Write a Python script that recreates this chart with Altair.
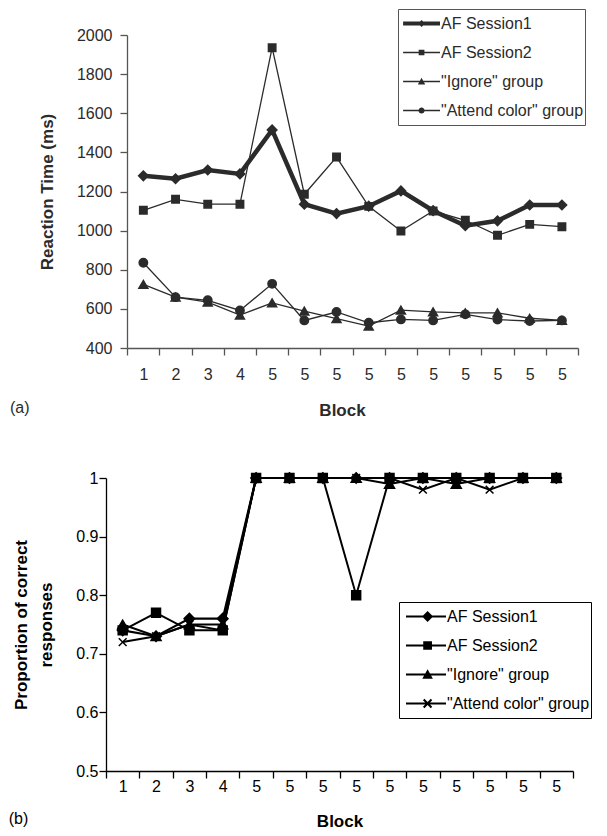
import altair as alt
import pandas as pd

# ---------------- data ----------------
blocks = ["1", "2", "3", "4", "5", "5", "5", "5", "5", "5", "5", "5", "5", "5"]
series = ["AF Session1", "AF Session2", "\"Ignore\" group", "\"Attend color\" group"]

rt_session1 = [1280, 1265, 1310, 1290, 1515, 1135, 1087, 1125, 1203, 1102, 1025, 1050, 1131, 1131]
rt_session2 = [1104, 1160, 1135, 1135, 1935, 1186, 1376, 1124, 998, 1100, 1053, 976, 1032, 1020]
rt_ignore = [725, 660, 635, 568, 631, 589, 550, 512, 594, 585, 580, 580, 552, 541]
rt_attend = [836, 660, 644, 592, 728, 541, 584, 529, 546, 541, 572, 545, 538, 541]

pc_session1 = [0.74, 0.73, 0.76, 0.76, 1, 1, 1, 1, 1, 1, 1, 1, 1, 1]
pc_session2 = [0.74, 0.77, 0.74, 0.74, 1, 1, 1, 0.80, 1, 1, 1, 1, 1, 1]
pc_ignore = [0.75, 0.73, 0.75, 0.75, 1, 1, 1, 1, 0.99, 1, 0.99, 1, 1, 1]
pc_attend = [0.72, 0.73, 0.75, 0.74, 1, 1, 1, 1, 1, 0.98, 1, 0.98, 1, 1]


def long_table(values_list):
    rows = []
    for s, vals in zip(series, values_list):
        for i, v in enumerate(vals):
            rows.append({"pos": i, "block": blocks[i], "series": s, "value": v})
    return pd.DataFrame(rows)


rt_df = long_table([rt_session1, rt_session2, rt_ignore, rt_attend])
pc_df = long_table([pc_session1, pc_session2, pc_ignore, pc_attend])

FONT = "Liberation Sans"
label_expr = "[" + ",".join("'%s'" % b for b in blocks) + "][datum.value]"


# ---------- legend symbols: filled line segment + filled marker ----------
def f(v):
    return ("%.4f" % v).rstrip("0").rstrip(".")


def seg(x0, h):
    return f"M{f(x0)},{f(-h)}L1,{f(-h)}L1,{f(h)}L{f(x0)},{f(h)}Z"


def diamond(cx, m):
    return f"M{f(cx)},{f(-m)}L{f(cx+m)},0L{f(cx)},{f(m)}L{f(cx-m)},0Z"


def square(cx, m):
    return f"M{f(cx-m)},{f(-m)}L{f(cx+m)},{f(-m)}L{f(cx+m)},{f(m)}L{f(cx-m)},{f(m)}Z"


def triangle(cx, m):
    return f"M{f(cx)},{f(-m)}L{f(cx+m)},{f(m*0.8)}L{f(cx-m)},{f(m*0.8)}Z"


def circle(cx, m):
    return (f"M{f(cx+m)},0A{f(m)},{f(m)} 0 1,1 {f(cx-m)},0"
            f"A{f(m)},{f(m)} 0 1,1 {f(cx+m)},0Z")


def xmark(cx, m, w):
    pts = [(w, m), (w, w), (m, w), (m, -w), (w, -w), (w, -m), (-w, -m), (-w, -w),
           (-m, -w), (-m, w), (-w, w), (-w, m)]
    rot = [((x - y) / 2 ** 0.5 + cx, (x + y) / 2 ** 0.5) for x, y in pts]
    area = sum(rot[i][0] * rot[(i + 1) % 12][1] - rot[(i + 1) % 12][0] * rot[i][1] for i in range(12))
    if area < 0:
        rot = rot[::-1]
    return "M" + "L".join(f"{f(x)},{f(y)}" for x, y in rot) + "Z"


def panel(df, width, height, ydom, yvals, ytitle, shapes, sizes, lw, leg_shapes,
          leg_x, leg_y, leg_size, color, axis_color, ylab_pad, ytitle_pad, xlab_pad, xtitle_pad,
          tag, tag_dx, tag_off, yformat, title_lh, x_scale, x_domain_dash, y_offset):
    xaxis = dict(title="Block", labelExpr=label_expr, labelAngle=0, tickBand="extent",
                 tickSize=7, labelPadding=xlab_pad, titlePadding=xtitle_pad,
                 domainColor=axis_color, tickColor=axis_color, domainWidth=1.3, tickWidth=1.3,
                 labelFont=FONT, labelFontSize=16, labelColor=color,
                 titleFont=FONT, titleFontSize=17, titleFontWeight="bold", titleColor=color)
    if x_domain_dash:
        xaxis["domainDash"] = x_domain_dash
    x = alt.X("pos:O", scale=x_scale, axis=alt.Axis(**xaxis))
    y = alt.Y("value:Q",
              scale=alt.Scale(domain=ydom, nice=False, zero=False),
              axis=alt.Axis(title=ytitle, values=yvals, format=yformat, grid=False, offset=y_offset,
                            tickSize=7, labelPadding=ylab_pad, titlePadding=ytitle_pad,
                            titleLineHeight=title_lh,
                            domainColor=axis_color, tickColor=axis_color, domainWidth=1.3, tickWidth=1.3,
                            labelFont=FONT, labelFontSize=16, labelColor=color,
                            titleFont=FONT, titleFontSize=17, titleFontWeight="bold", titleColor=color))

    lines = alt.Chart(df).mark_line(color=color).encode(
        x=x, y=y,
        strokeWidth=alt.StrokeWidth("series:N", scale=alt.Scale(type="ordinal", domain=series, range=lw),
                                    legend=None),
    )
    pts = alt.Chart(df).mark_point(filled=True, opacity=1, fill=color, stroke=color, strokeWidth=1.5).encode(
        x=x, y=y,
        shape=alt.Shape("series:N", scale=alt.Scale(domain=series, range=shapes), legend=None),
        size=alt.Size("series:N", scale=alt.Scale(type="ordinal", domain=series, range=sizes), legend=None),
    )
    legend = alt.Legend(title=None, orient="none", legendX=leg_x, legendY=leg_y,
                        symbolSize=leg_size, symbolOpacity=1, symbolFillColor=color,
                        symbolStrokeWidth=0, labelFont=FONT, labelFontSize=16, labelColor=color,
                        strokeColor=axis_color, fillColor="white", padding=1, clipHeight=27,
                        rowPadding=2, labelOffset=1)
    dummy = alt.Chart(df).mark_point(filled=True, opacity=0, fill=color).encode(
        x=x, y=y,
        shape=alt.Shape("series:N", scale=alt.Scale(domain=series, range=leg_shapes), legend=legend),
    )
    return alt.layer(lines, pts, dummy).resolve_scale(
        shape="independent", strokeWidth="independent", size="independent"
    ).properties(
        width=width, height=height,
        title=alt.TitleParams(tag, orient="bottom", anchor="start", frame="bounds", dx=tag_dx,
                              offset=tag_off, fontSize=16, fontWeight="normal", font=FONT, color=color),
    )


# ---------------- top panel ----------------
# legend symbol box 41px wide (r = 20.5 px per unit)
top_leg = [
    seg(-0.8, 0.098) + diamond(0.1, 0.17),
    seg(-0.8, 0.037) + square(0.1, 0.14),
    seg(-0.8, 0.037) + triangle(0.1, 0.18),
    seg(-0.8, 0.037) + circle(0.1, 0.15),
]
top = panel(rt_df, 472, 313, [400, 2000], list(range(400, 2001, 200)), "Reaction Time (ms)",
            ["diamond", "square", "triangle-up", "circle"], [90, 55, 80, 70],
            [4.5, 1.3, 1.3, 1.3], top_leg,
            292, -26, 1681, "#2b2b2b", "#555555", 8, 20, 11, 20,
            "(a)", -28.5, -18, "d", 17,
            alt.Scale(type="band", paddingInner=0, paddingOuter=0.33, align=1),
            [0, 21.25, 460], -21)

# ---------------- bottom panel ----------------
# legend symbol box 46px wide (r = 23 px per unit)
bot_leg = [
    seg(-0.74, 0.045) + diamond(0.2, 0.24),
    seg(-0.74, 0.045) + square(0.2, 0.19),
    seg(-0.74, 0.045) + triangle(0.2, 0.23),
    seg(-0.74, 0.045) + xmark(0.2, 0.24, 0.045),
]
bottom = panel(pc_df, 467, 293, [0.5, 1.0], [0.5, 0.6, 0.7, 0.8, 0.9, 1.0],
               ["Proportion of correct", "responses"],
               ["diamond", "square", "triangle-up", "M-1,-1L1,1M-1,1L1,-1"], [110, 80, 100, 60],
               [2.2, 2, 2, 2], bot_leg,
               293, 124, 2116, "#000000", "#000000", 1, 20, 0, 19,
               "(b)", -4, -18, "~g", 25,
               alt.Scale(type="band", paddingInner=0, paddingOuter=0), None, 0)

chart = alt.concat(top, bottom, columns=1, spacing=51).properties(
    padding=0
).configure_view(stroke=None)

chart.save("out.html", embed_options={"renderer": "svg", "actions": False})
